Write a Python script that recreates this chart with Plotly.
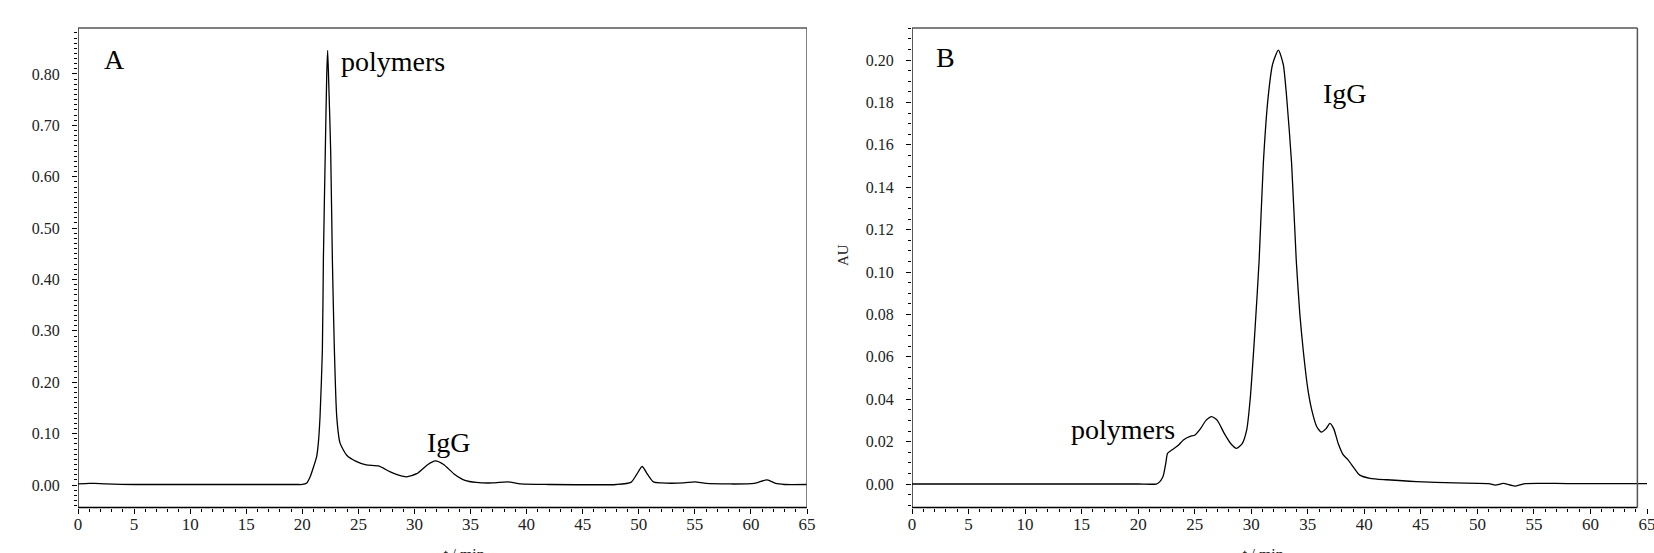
import plotly.graph_objects as go

# ---------------- Data ----------------
# Panel A chromatogram: time (min) and absorbance (AU)
t_a = [0, 1.0, 1.5, 2.5, 5, 10, 15, 19.5, 20.0, 20.4, 20.7, 21.0, 21.28, 21.43, 21.58,
       21.79, 21.88, 22.05, 22.18, 22.26, 22.36, 22.53, 22.68, 22.86, 23.07, 23.36,
       23.96, 24.8, 25.7, 26.8, 27.8, 28.6, 29.3, 30.2, 31.2, 31.85, 32.6, 33.5,
       34.5, 35.5, 37.0, 38.3, 39.5, 42, 48, 49.3, 49.8, 50.3, 50.8, 51.3, 52, 54,
       55, 56, 58, 60.3, 61.45, 62.2, 63, 65]
au_a = [0.002, 0.003, 0.003, 0.002, 0.001, 0.001, 0.001, 0.001, 0.001, 0.004, 0.016,
        0.035, 0.055, 0.082, 0.133, 0.263, 0.44, 0.65, 0.80, 0.846, 0.78, 0.65, 0.44,
        0.263, 0.133, 0.082, 0.058, 0.046, 0.039, 0.037, 0.026, 0.019, 0.016, 0.022,
        0.040, 0.047, 0.040, 0.022, 0.009, 0.005, 0.004, 0.006, 0.002, 0.001, 0.001,
        0.005, 0.020, 0.036, 0.020, 0.006, 0.004, 0.004, 0.006, 0.003, 0.002, 0.003,
        0.010, 0.003, 0.001, 0.001]

# Panel B chromatogram
t_b = [0, 5, 10, 15, 20, 21.6, 21.9, 22.2, 22.45, 22.6, 22.96, 23.5, 24.0, 24.6, 25.0,
       25.5, 26.0, 26.5, 27.0, 27.6, 28.2, 28.7, 29.2, 29.6, 29.9, 30.3, 30.7, 31.07,
       31.5, 31.89, 32.4, 32.83, 33.13, 33.57, 33.98, 34.3, 34.6, 35.0, 35.35, 35.8,
       36.2, 36.6, 36.96, 37.3, 37.7, 38.14, 38.58, 39.1, 39.6, 40.5, 42, 44.6, 48,
       51, 51.6, 52.3, 53.3, 54.2, 58, 65]
au_b = [0, 0, 0, 0, 0, 0, 0.001, 0.0035, 0.010, 0.0145, 0.016, 0.018, 0.0208, 0.0225,
        0.023, 0.026, 0.030, 0.0318, 0.030, 0.024, 0.019, 0.0168, 0.019, 0.0255, 0.0396,
        0.070, 0.1057, 0.1513, 0.1827, 0.198, 0.2047, 0.198, 0.1827, 0.1513, 0.1057,
        0.080, 0.063, 0.045, 0.035, 0.027, 0.0245, 0.026, 0.0286, 0.026, 0.019, 0.0137,
        0.0113, 0.0075, 0.0042, 0.0027, 0.002, 0.0011, 0.0005, 0.0002, -0.0005, 0.0003,
        -0.001, 0.0002, 0.0002, 0.0002]

x_ticks = list(range(0, 70, 5))
y_ticks_a = [0.0, 0.1, 0.2, 0.3, 0.4, 0.5, 0.6, 0.7, 0.8]
y_ticks_b = [0.0, 0.02, 0.04, 0.06, 0.08, 0.10, 0.12, 0.14, 0.16, 0.18, 0.20]

panel_labels = ["A", "B"]
peak_labels_a = [("polymers", 23.27, 0.825), ("IgG", 30.94, 0.082)]
peak_labels_b = [("polymers", 13.88, 0.0255), ("IgG", 36.16, 0.184)]

# ---------------- Layout geometry ----------------
W, H = 1654, 553
top_px, bot_px = 28, 507.5
ydom = [1 - bot_px / H, 1 - top_px / H]
xdom_a = [78 / W, 807 / W]
xdom_b = [912 / W, 1647 / W]

FONT = "Liberation Serif"
TXT = "#222222"
LBL = 28

fig = go.Figure()
fig.add_trace(go.Scatter(x=t_a, y=au_a, mode="lines", xaxis="x", yaxis="y",
                         line=dict(color="black", width=1.3, shape="spline", smoothing=0.6),
                         showlegend=False, hoverinfo="skip"))
fig.add_trace(go.Scatter(x=t_b, y=au_b, mode="lines", xaxis="x2", yaxis="y2",
                         line=dict(color="black", width=1.3, shape="spline", smoothing=0.6),
                         showlegend=False, hoverinfo="skip"))

xcommon = dict(range=[0, 65], tickvals=x_ticks, ticks="outside", ticklen=5, tickwidth=1,
               tickcolor="black", showline=False, showgrid=False, zeroline=False,
               tickfont=dict(family=FONT, size=17, color=TXT), ticklabelstandoff=-4,
               ticklabeloverflow="allow",
               minor=dict(dtick=1, ticks="outside", ticklen=3, tickcolor="black", showgrid=False),
               automargin=False, fixedrange=True)
ycommon = dict(ticks="outside", ticklen=5, tickwidth=1, tickcolor="black", showline=False,
               showgrid=False, zeroline=False, tickformat=".2f",
               tickfont=dict(family=FONT, size=16, color=TXT), ticklabelstandoff=9,
               automargin=False, fixedrange=True, domain=ydom)

fig.update_layout(
    width=W, height=H, margin=dict(l=0, r=0, t=0, b=0),
    paper_bgcolor="white", plot_bgcolor="white",
    xaxis=dict(domain=xdom_a, anchor="y", **xcommon),
    yaxis=dict(anchor="x", range=[-0.0438, 0.8895], tickvals=y_ticks_a,
               minor=dict(dtick=0.01, ticks="outside", ticklen=3, tickcolor="black", showgrid=False),
               **ycommon),
    xaxis2=dict(domain=xdom_b, anchor="y2", **xcommon),
    yaxis2=dict(anchor="x2", range=[-0.01108, 0.2151], tickvals=y_ticks_b,
                minor=dict(dtick=0.005, ticks="outside", ticklen=3, tickcolor="black", showgrid=False),
                **ycommon),
)

shapes = []
for xr, yr, xr_end in [("x", "y", 65), ("x2", "y2", 64.15)]:
    # bottom & left (black), top & right (grey)
    shapes.append(dict(type="line", xref=xr, yref=yr + " domain", x0=0, x1=xr_end, y0=0, y1=0,
                       line=dict(color="black", width=1.5), layer="above"))
    shapes.append(dict(type="line", xref=xr, yref=yr + " domain", x0=0, x1=0, y0=0, y1=1,
                       line=dict(color="black", width=1.3), layer="above"))
    shapes.append(dict(type="line", xref=xr, yref=yr + " domain", x0=0, x1=xr_end, y0=1, y1=1,
                       line=dict(color="#555555", width=1.5), layer="above"))
    shapes.append(dict(type="line", xref=xr, yref=yr + " domain", x0=xr_end, x1=xr_end, y0=0, y1=1,
                       line=dict(color="#555555", width=1.5), layer="above"))
fig.update_layout(shapes=shapes)

ann = []
ann.append(dict(text=panel_labels[0], xref="x", yref="y", x=2.14, y=0.828, xanchor="left",
                yanchor="middle", showarrow=False, font=dict(family=FONT, size=LBL, color="black")))
ann.append(dict(text=panel_labels[1], xref="x2", yref="y2", x=1.95, y=0.2014, xanchor="left",
                yanchor="middle", showarrow=False, font=dict(family=FONT, size=LBL, color="black")))
for txt, xx, yy in peak_labels_a:
    ann.append(dict(text=txt, xref="x", yref="y", x=xx, y=yy, xanchor="left", yanchor="middle",
                    showarrow=False, font=dict(family=FONT, size=LBL, color="black")))
for txt, xx, yy in peak_labels_b:
    ann.append(dict(text=txt, xref="x2", yref="y2", x=xx, y=yy, xanchor="left", yanchor="middle",
                    showarrow=False, font=dict(family=FONT, size=LBL, color="black")))
# axis titles (partly cut by the bottom edge, as in the reference)
ann.append(dict(text="<i>t</i> / min", xref="x", yref="paper", x=34.4, y=(H - 544) / H,
                xanchor="center", yanchor="top", showarrow=False,
                font=dict(family=FONT, size=16, color=TXT)))
ann.append(dict(text="<i>t</i> / min", xref="x2", yref="paper", x=31.0, y=(H - 544) / H,
                xanchor="center", yanchor="top", showarrow=False,
                font=dict(family=FONT, size=16, color=TXT)))
ann.append(dict(text="AU", xref="paper", yref="paper", x=843 / W, y=1 - 255 / H,
                xanchor="center", yanchor="middle", textangle=-90, showarrow=False,
                font=dict(family=FONT, size=15, color=TXT)))
fig.update_layout(annotations=ann)

fig.write_html("out.html", config={"displayModeBar": False},
               post_script="document.body.style.margin='0';document.body.style.padding='0';")
